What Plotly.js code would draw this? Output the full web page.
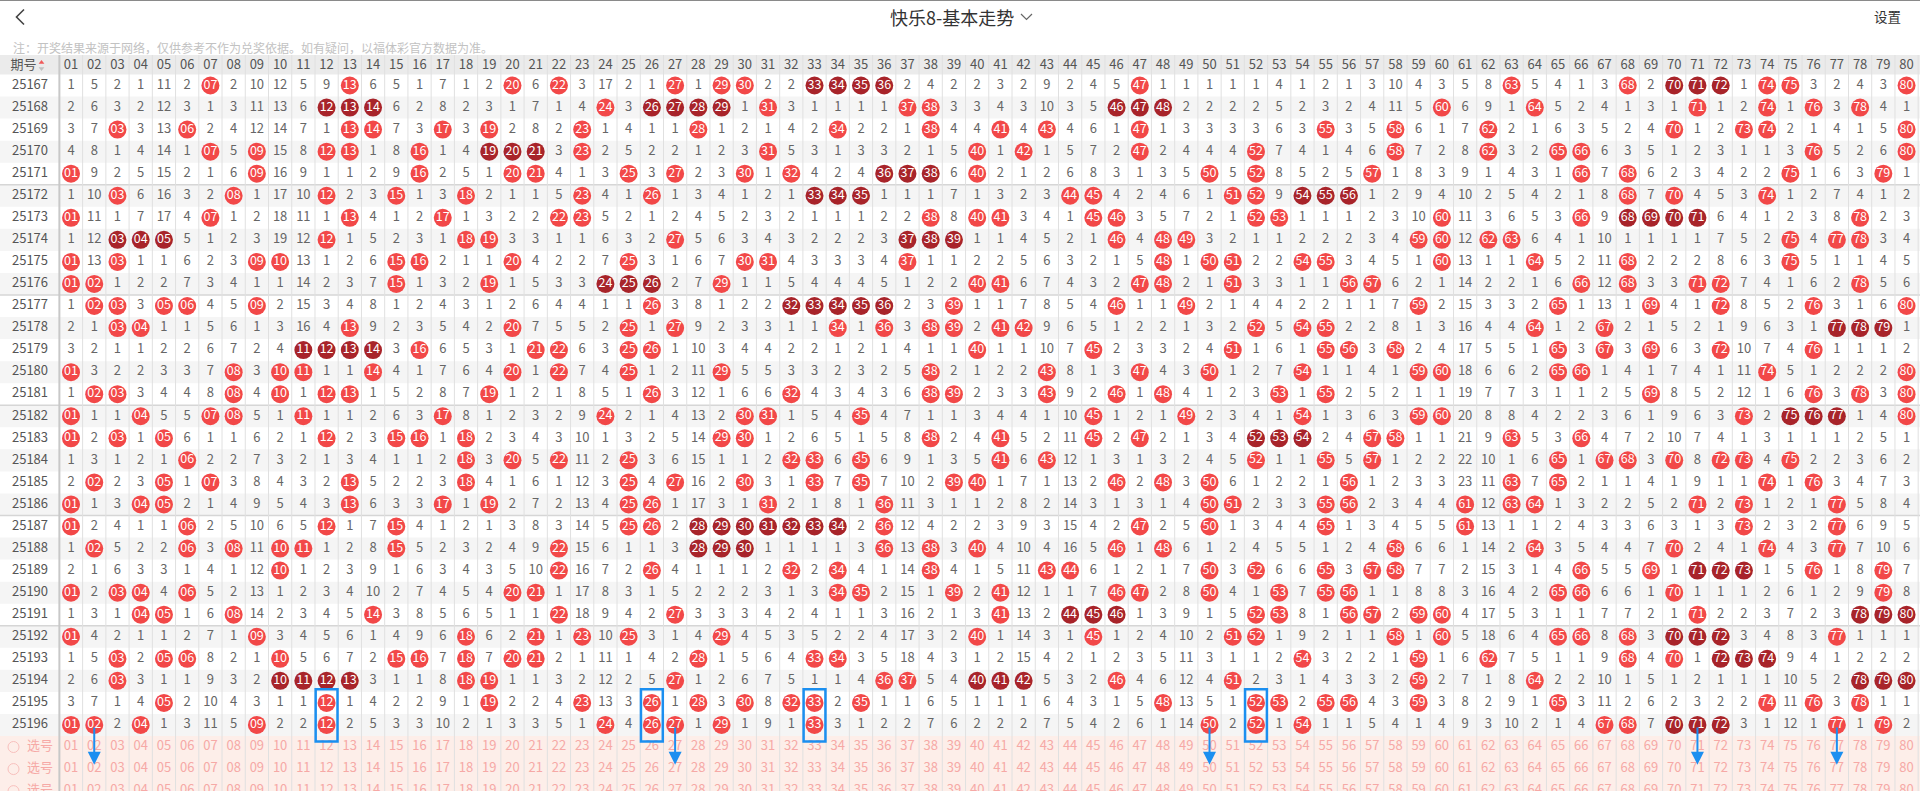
<!DOCTYPE html>
<html><head><meta charset="utf-8">
<script src="https://cdn.plot.ly/plotly-3.0.1.min.js"></script>
<style>html,body{margin:0;padding:0;background:#fff;overflow:hidden}#chart{width:1920px;height:791px}</style>
</head><body><div id="chart"></div>
<script>
// ---------------- DATA ----------------
const pageTitle = '快乐8-基本走势';
const noteText = '注：开奖结果来源于网络，仅供参考不作为兑奖依据。如有疑问，以福体彩官方数据为准。';
const settingText = '设置';
const periodHeader = '期号';
const selectLabel = '选号';
const numberLabels = ['01','02','03','04','05','06','07','08','09','10','11','12','13','14','15','16','17','18','19','20',
 '21','22','23','24','25','26','27','28','29','30','31','32','33','34','35','36','37','38','39','40',
 '41','42','43','44','45','46','47','48','49','50','51','52','53','54','55','56','57','58','59','60',
 '61','62','63','64','65','66','67','68','69','70','71','72','73','74','75','76','77','78','79','80'];
const periods = ['25167','25168','25169','25170','25171','25172','25173','25174','25175','25176',
 '25177','25178','25179','25180','25181','25182','25183','25184','25185','25186',
 '25187','25188','25189','25190','25191','25192','25193','25194','25195','25196'];
// omission (miss count) per period for numbers 01..80; 0 = drawn in that period
const omission = [
 [1,5,2,1,11,2,0,2,10,12,5,9,0,6,5,1,7,1,2,0, 6,0,3,17,2,1,0,1,0,0,2,2,0,0,0,0,2,4,2,2, 3,2,9,2,4,5,0,1,1,1,1,1,4,1,2,1,3,10,4,3, 5,8,0,5,4,1,3,0,2,0,0,0,1,0,0,3,2,4,3,0],
 [2,6,3,2,12,3,1,3,11,13,6,0,0,0,6,2,8,2,3,1, 7,1,4,0,3,0,0,0,0,1,0,3,1,1,1,1,0,0,3,3, 4,3,10,3,5,0,0,0,2,2,2,2,5,2,3,2,4,11,5,0, 6,9,1,0,5,2,4,1,3,1,0,1,2,0,1,0,3,0,4,1],
 [3,7,0,3,13,0,2,4,12,14,7,1,0,0,7,3,0,3,0,2, 8,2,0,1,4,1,1,0,1,2,1,4,2,0,2,2,1,0,4,4, 0,4,0,4,6,1,0,1,3,3,3,3,6,3,0,3,5,0,6,1, 7,0,2,1,6,3,5,2,4,0,1,2,0,0,2,1,4,1,5,0],
 [4,8,1,4,14,1,0,5,0,15,8,0,0,1,8,0,1,4,0,0, 0,3,0,2,5,2,2,1,2,3,0,5,3,1,3,3,2,1,5,0, 1,0,1,5,7,2,0,2,4,4,4,0,7,4,1,4,6,0,7,2, 8,0,3,2,0,0,6,3,5,1,2,3,1,1,3,0,5,2,6,0],
 [0,9,2,5,15,2,1,6,0,16,9,1,1,2,9,0,2,5,1,0, 0,4,1,3,0,3,0,2,3,0,1,0,4,2,4,0,0,0,6,0, 2,1,2,6,8,3,1,3,5,0,5,0,8,5,2,5,0,1,8,3, 9,1,4,3,1,0,7,0,6,2,3,4,2,2,0,1,6,3,0,1],
 [1,10,0,6,16,3,2,0,1,17,10,0,2,3,0,1,3,0,2,1, 1,5,0,4,1,0,1,3,4,1,2,1,0,0,0,1,1,1,7,1, 3,2,3,0,0,4,2,4,6,1,0,0,9,0,0,0,1,2,9,4, 10,2,5,4,2,1,8,0,7,0,4,5,3,0,1,2,7,4,1,2],
 [0,11,1,7,17,4,0,1,2,18,11,1,0,4,1,2,0,1,3,2, 2,0,0,5,2,1,2,4,5,2,3,2,1,1,1,2,2,0,8,0, 0,3,4,1,0,0,3,5,7,2,1,0,0,1,1,1,2,3,10,0, 11,3,6,5,3,0,9,0,0,0,0,6,4,1,2,3,8,0,2,3],
 [1,12,0,0,0,5,1,2,3,19,12,0,1,5,2,3,1,0,0,3, 3,1,1,6,3,2,0,5,6,3,4,3,2,2,2,3,0,0,0,1, 1,4,5,2,1,0,4,0,0,3,2,1,1,2,2,2,3,4,0,0, 12,0,0,6,4,1,10,1,1,1,1,7,5,2,0,4,0,0,3,4],
 [0,13,0,1,1,6,2,3,0,0,13,1,2,6,0,0,2,1,1,0, 4,2,2,7,0,3,1,6,7,0,0,4,3,3,3,4,0,1,1,2, 2,5,6,3,2,1,5,0,1,0,0,2,2,0,0,3,4,5,1,0, 13,1,1,0,5,2,11,0,2,2,2,8,6,3,0,5,1,1,4,5],
 [0,0,1,2,2,7,3,4,1,1,14,2,3,7,0,1,3,2,0,1, 5,3,3,0,0,0,2,7,0,1,1,5,4,4,4,5,1,2,2,0, 0,6,7,4,3,2,0,0,2,1,0,3,3,1,1,0,0,6,2,1, 14,2,2,1,6,0,12,0,3,3,0,0,7,4,1,6,2,0,5,6],
 [1,0,0,3,0,0,4,5,0,2,15,3,4,8,1,2,4,3,1,2, 6,4,4,1,1,0,3,8,1,2,2,0,0,0,0,0,2,3,0,1, 1,7,8,5,4,0,1,1,0,2,1,4,4,2,2,1,1,7,0,2, 15,3,3,2,0,1,13,1,0,4,1,0,8,5,2,0,3,1,6,0],
 [2,1,0,0,1,1,5,6,1,3,16,4,0,9,2,3,5,4,2,0, 7,5,5,2,0,1,0,9,2,3,3,1,1,0,1,0,3,0,0,2, 0,0,9,6,5,1,2,2,1,3,2,0,5,0,0,2,2,8,1,3, 16,4,4,0,1,2,0,2,1,5,2,1,9,6,3,1,0,0,0,1],
 [3,2,1,1,2,2,6,7,2,4,0,0,0,0,3,0,6,5,3,1, 0,0,6,3,0,0,1,10,3,4,4,2,2,1,2,1,4,1,1,0, 1,1,10,7,0,2,3,3,2,4,0,1,6,1,0,0,3,0,2,4, 17,5,5,1,0,3,0,3,0,6,3,0,10,7,4,0,1,1,1,2],
 [0,3,2,2,3,3,7,0,3,0,0,1,1,0,4,1,7,6,4,0, 1,0,7,4,0,1,2,11,0,5,5,3,3,2,3,2,5,0,2,1, 2,2,0,8,1,3,0,4,3,0,1,2,7,0,1,1,4,1,0,0, 18,6,6,2,0,0,1,4,1,7,4,1,11,0,5,1,2,2,2,0],
 [1,0,0,3,4,4,8,0,4,0,1,0,0,1,5,2,8,7,0,1, 2,1,8,5,1,0,3,12,1,6,6,0,4,3,4,3,6,0,0,2, 3,3,0,9,2,0,1,0,4,1,2,3,0,1,0,2,5,2,1,1, 19,7,7,3,1,1,2,5,0,8,5,2,12,1,6,0,3,0,3,0],
 [0,1,1,0,5,5,0,0,5,1,0,1,1,2,6,3,0,8,1,2, 3,2,9,0,2,1,4,13,2,0,0,1,5,4,0,4,7,1,1,3, 4,4,1,10,0,1,2,1,0,2,3,4,1,0,1,3,6,3,0,0, 20,8,8,4,2,2,3,6,1,9,6,3,0,2,0,0,0,1,4,0],
 [0,2,0,1,0,6,1,1,6,2,1,0,2,3,0,0,1,0,2,3, 4,3,10,1,3,2,5,14,0,0,1,2,6,5,1,5,8,0,2,4, 0,5,2,11,0,2,0,2,1,3,4,0,0,0,2,4,0,0,1,1, 21,9,0,5,3,0,4,7,2,10,7,4,1,3,1,1,1,2,5,1],
 [1,3,1,2,1,0,2,2,7,3,2,1,3,4,1,1,2,0,3,0, 5,0,11,2,0,3,6,15,1,1,2,0,0,6,0,6,9,1,3,5, 0,6,0,12,1,3,1,3,2,4,5,0,1,1,0,5,0,1,2,2, 22,10,1,6,0,1,0,0,3,0,8,0,0,4,0,2,2,3,6,2],
 [2,0,2,3,0,1,0,3,8,4,3,2,0,5,2,2,3,0,4,1, 6,1,12,3,0,4,0,16,2,0,3,1,0,7,0,7,10,2,0,0, 1,7,1,13,2,0,2,0,3,0,6,1,2,2,1,0,1,2,3,3, 23,11,0,7,0,2,1,1,4,1,9,1,1,0,1,0,3,4,7,3],
 [0,1,3,0,0,2,1,4,9,5,4,3,0,6,3,3,0,1,0,2, 7,2,13,4,0,0,1,17,3,1,0,2,1,8,1,0,11,3,1,1, 2,8,2,14,3,1,3,1,4,0,0,2,3,3,0,0,2,3,4,4, 0,12,0,0,1,3,2,2,5,2,0,2,0,1,2,1,0,5,8,4],
 [0,2,4,1,1,0,2,5,10,6,5,0,1,7,0,4,1,2,1,3, 8,3,14,5,0,0,2,0,0,0,0,0,0,0,2,0,12,4,2,2, 3,9,3,15,4,2,0,2,5,0,1,3,4,4,0,1,3,4,5,5, 0,13,1,1,2,4,3,3,6,3,1,3,0,2,3,2,0,6,9,5],
 [1,0,5,2,2,0,3,0,11,0,0,1,2,8,0,5,2,3,2,4, 9,0,15,6,1,1,3,0,0,0,1,1,1,1,3,0,13,0,3,0, 4,10,4,16,5,0,1,0,6,1,2,4,5,5,1,2,4,0,6,6, 1,14,2,0,3,5,4,4,7,0,2,4,1,0,4,3,0,7,10,6],
 [2,1,6,3,3,1,4,1,12,0,1,2,3,9,1,6,3,4,3,5, 10,0,16,7,2,0,4,1,1,1,2,0,2,0,4,1,14,0,4,1, 5,11,0,0,6,1,2,1,7,0,3,0,6,6,0,3,0,0,7,7, 2,15,3,1,4,0,5,5,0,1,0,0,0,1,5,0,1,8,0,7],
 [0,2,0,0,4,0,5,2,13,1,2,3,4,10,2,7,4,5,4,0, 0,1,17,8,3,1,5,2,2,2,3,1,3,0,0,2,15,1,0,2, 0,12,1,1,7,0,0,2,8,0,4,1,0,7,0,0,1,1,8,8, 3,16,4,2,0,0,6,6,1,0,1,1,1,2,6,1,2,9,0,8],
 [1,3,1,0,0,1,6,0,14,2,3,4,5,0,3,8,5,6,5,1, 1,0,18,9,4,2,0,3,3,3,4,2,4,1,1,3,16,2,1,3, 0,13,2,0,0,0,1,3,9,1,5,0,0,8,1,0,0,2,0,0, 4,17,5,3,1,1,7,7,2,1,0,2,2,3,7,2,3,0,0,0],
 [0,4,2,1,1,2,7,1,0,3,4,5,6,1,4,9,6,0,6,2, 0,1,0,10,0,3,1,4,0,4,5,3,5,2,2,4,17,3,2,0, 1,14,3,1,0,1,2,4,10,2,0,0,1,9,2,1,1,0,1,0, 5,18,6,4,0,0,8,0,3,0,0,0,3,4,8,3,0,1,1,1],
 [1,5,0,2,0,0,8,2,1,0,5,6,7,2,0,0,7,0,7,0, 0,2,1,11,1,4,2,0,1,5,6,4,0,0,3,5,18,4,3,1, 2,15,4,2,1,2,3,5,11,3,1,1,2,0,3,2,2,1,0,1, 6,0,7,5,1,1,9,0,4,0,1,0,0,0,9,4,1,2,2,2],
 [2,6,0,3,1,1,9,3,2,0,0,0,0,3,1,1,8,0,0,1, 1,3,2,12,2,5,0,1,2,6,7,5,1,1,4,0,0,5,4,0, 0,0,5,3,2,0,4,6,12,4,0,2,3,1,4,3,3,2,0,2, 7,1,8,0,2,2,10,1,5,1,2,1,1,1,10,5,2,0,0,0],
 [3,7,1,4,0,2,10,4,3,1,1,0,1,4,2,2,9,1,0,2, 2,4,0,13,3,0,1,0,3,0,8,0,0,2,0,1,1,6,5,1, 1,1,6,4,3,1,5,0,13,5,1,0,0,2,0,0,4,3,0,3, 8,2,9,1,0,3,11,2,6,2,3,2,2,0,11,0,3,0,1,1],
 [0,0,2,0,1,3,11,5,0,2,2,0,2,5,3,3,10,2,1,3, 3,5,1,0,4,0,0,1,0,1,9,1,0,3,1,2,2,7,6,2, 2,2,7,5,4,2,6,1,14,0,2,0,1,0,1,1,5,4,1,4, 9,3,10,2,1,4,0,0,7,0,0,0,3,1,12,1,0,1,0,2]
];
// hand-drawn highlights in the reference
const boxedNumbers = ['12','26','33','52'];
const boxedPeriods = ['25195','25196'];
const arrowNumbers = ['02','27','50','71','77'];
const selectRowCount = 3;

// ---------------- GEOMETRY ----------------
const W = 1920, H = 791;
const COL_PX = 23.235, COL1_PX = 71;      // pixel pitch / centre of column 01
const ROW_PX = 22.05, ROW0_PX = 85.5;      // pixel pitch / centre of first period row
const px2x = p => 1 + (p - COL1_PX) / COL_PX;
const py2y = p => (p - ROW0_PX) / ROW_PX;
const xr = [px2x(0), px2x(W)];
const yr = [py2y(H), py2y(0)];
const FONT = "'Microsoft YaHei','Noto Sans CJK SC','Noto Sans',sans-serif";
const RED = '#f24848', DARK = '#a8242a', MISS = '#666666', PINK = '#f6a9a6', BLUE = '#1b8ff0';
const nRows = periods.length, nCols = numberLabels.length;
const headerY = py2y(65.5);

// ---------------- TRACES ----------------
const miss = {x:[], y:[], text:[]}, red = {x:[], y:[], text:[]}, dark = {x:[], y:[], text:[]};
omission.forEach((row, r) => {
  row.forEach((v, c) => {
    if (v > 0) { miss.x.push(c + 1); miss.y.push(r); miss.text.push(String(v)); return; }
    // run length of consecutive drawn numbers containing c
    let a = c, b = c;
    while (a - 1 >= 0 && row[a - 1] === 0) a--;
    while (b + 1 < nCols && row[b + 1] === 0) b++;
    const tgt = (b - a + 1) >= 3 ? dark : red;
    tgt.x.push(c + 1); tgt.y.push(r); tgt.text.push(numberLabels[c]);
  });
});
const traces = [];
traces.push({type:'scatter', mode:'text', x:miss.x, y:miss.y, text:miss.text, textposition:'middle center',
  textfont:{family:FONT, size:13, color:MISS}, hoverinfo:'skip'});
[[red, RED], [dark, DARK]].forEach(([d, col]) => traces.push({type:'scatter', mode:'markers+text', x:d.x, y:d.y, text:d.text,
  textposition:'middle center', marker:{size:18, color:col, line:{width:0}},
  textfont:{family:FONT, size:12.5, color:'#ffffff'}, hoverinfo:'skip'}));
// header numbers
traces.push({type:'scatter', mode:'text', x:numberLabels.map((_, i) => i + 1), y:numberLabels.map(() => headerY),
  text:numberLabels, textposition:'middle center', textfont:{family:FONT, size:13, color:'#555'}, hoverinfo:'skip'});
// period labels
traces.push({type:'scatter', mode:'text', x:periods.map(() => px2x(30)), y:periods.map((_, i) => i),
  text:periods, textposition:'middle center', textfont:{family:FONT, size:13, color:'#555'}, hoverinfo:'skip'});
// header 期号 + sort icon
traces.push({type:'scatter', mode:'text', x:[px2x(23.5)], y:[headerY], text:[periodHeader], textposition:'middle center',
  textfont:{family:FONT, size:13, color:'#555'}, hoverinfo:'skip'});
traces.push({type:'scatter', mode:'markers', x:[px2x(41.5), px2x(41.5)], y:[py2y(62.5), py2y(68.5)],
  marker:{symbol:['triangle-up','triangle-down'], size:5, color:['#f05a5a','#c0c0c0']}, hoverinfo:'skip'});
// select rows
const sx = [], sy = [], st = [];
for (let k = 0; k < selectRowCount; k++) numberLabels.forEach((lab, i) => { sx.push(i + 1); sy.push(nRows + k); st.push(lab); });
traces.push({type:'scatter', mode:'text', x:sx, y:sy, text:st, textposition:'middle center',
  textfont:{family:FONT, size:13, color:PINK}, hoverinfo:'skip'});
const selY = Array.from({length:selectRowCount}, (_, k) => nRows + k);
traces.push({type:'scatter', mode:'text', x:selY.map(() => px2x(40)), y:selY, text:selY.map(() => selectLabel),
  textposition:'middle center', textfont:{family:FONT, size:13, color:PINK}, hoverinfo:'skip'});
traces.push({type:'scatter', mode:'markers', x:selY.map(() => px2x(13.5)), y:selY,
  marker:{symbol:'circle-open', size:11, color:'#f8c0bd', line:{width:1}}, hoverinfo:'skip'});

// ---------------- SHAPES ----------------
const shapes = [];
const yTop = py2y(55), yBot = nRows + selectRowCount - 0.5;
shapes.push({type:'rect', layer:'below', xref:'paper', yref:'y', x0:0, x1:1, y0:yTop, y1:-0.5, fillcolor:'#ebebeb', line:{width:0}});
for (let r = 1; r < nRows; r += 2)
  shapes.push({type:'rect', layer:'below', xref:'paper', yref:'y', x0:0, x1:1, y0:r - 0.5, y1:r + 0.5, fillcolor:'#f5f5f5', line:{width:0}});
shapes.push({type:'rect', layer:'below', xref:'paper', yref:'y', x0:0, x1:1, y0:nRows - 0.5, y1:yBot + 1, fillcolor:'#fdeee9', line:{width:0}});
for (let k = 1; k <= nCols; k++)
  shapes.push({type:'line', layer:'below', xref:'x', yref:'y', x0:k + 0.5, x1:k + 0.5, y0:yTop, y1:yBot + 1, line:{color:'#e0e0e0', width:1}});
shapes.push({type:'line', layer:'below', xref:'x', yref:'y', x0:0.5, x1:0.5, y0:yTop, y1:yBot + 1, line:{color:'#c8c8c8', width:2}});
for (let r = 5; r < nRows; r += 5)
  shapes.push({type:'line', layer:'below', xref:'paper', yref:'y', x0:0, x1:1, y0:r - 0.5, y1:r - 0.5, line:{color:'#d6d6d6', width:1.5}});
// top edge line
shapes.push({type:'line', xref:'paper', yref:'paper', x0:0, x1:1, y0:1 - 0.5 / H, y1:1 - 0.5 / H, line:{color:'#8a8a8a', width:1}});
// back chevron and title chevron (paper px)
const P = (x, y) => `${(x / W).toFixed(5)},${(1 - y / H).toFixed(5)}`;
shapes.push({type:'path', xref:'paper', yref:'paper', path:`M${P(24,9.5)} L${P(16.5,17)} L${P(24,24.5)}`, line:{color:'#444', width:1.6}});
shapes.push({type:'path', xref:'paper', yref:'paper', path:`M${P(1021,14)} L${P(1026.5,19.5)} L${P(1032,14)}`, line:{color:'#666', width:1.2}});
// highlight boxes
const r0 = periods.indexOf(boxedPeriods[0]), r1 = periods.indexOf(boxedPeriods[boxedPeriods.length - 1]);
boxedNumbers.forEach(n => {
  const c = numberLabels.indexOf(n) + 1;
  shapes.push({type:'rect', xref:'x', yref:'y', x0:c - 0.47, x1:c + 0.47, y0:r0 - 0.62, y1:r1 + 0.75, line:{color:BLUE, width:2.5}, fillcolor:'rgba(0,0,0,0)'});
});

// ---------------- ANNOTATIONS ----------------
const annotations = [
  {xref:'paper', yref:'paper', x:951.5 / W, y:1 - 17 / H, text:pageTitle, showarrow:false, xanchor:'center', yanchor:'middle',
   font:{family:FONT, size:18, color:'#333'}},
  {xref:'paper', yref:'paper', x:1887 / W, y:1 - 16 / H, text:settingText, showarrow:false, xanchor:'center', yanchor:'middle',
   font:{family:FONT, size:13.5, color:'#333'}},
  {xref:'paper', yref:'paper', x:11 / W, y:1 - 47 / H, text:noteText, showarrow:false, xanchor:'left', yanchor:'middle',
   font:{family:FONT, size:12, color:'#c2c2c2'}}
];
arrowNumbers.forEach(n => {
  const c = numberLabels.indexOf(n) + 1;
  annotations.push({xref:'x', yref:'y', axref:'x', ayref:'y', x:c, y:nRows + 0.8, ax:c, ay:nRows - 1 + 0.05, text:'',
    showarrow:true, arrowhead:2, arrowsize:1.3, arrowwidth:2, arrowcolor:BLUE, standoff:0, startstandoff:0});
});

const layout = {
  width:W, height:H, margin:{l:0, r:0, t:0, b:0}, paper_bgcolor:'#ffffff', plot_bgcolor:'rgba(0,0,0,0)',
  showlegend:false, hovermode:false,
  xaxis:{range:xr, visible:false, fixedrange:true},
  yaxis:{range:yr, visible:false, fixedrange:true},
  shapes, annotations
};
Plotly.newPlot('chart', traces, layout, {displayModeBar:false, staticPlot:true});
</script>
</body></html>
